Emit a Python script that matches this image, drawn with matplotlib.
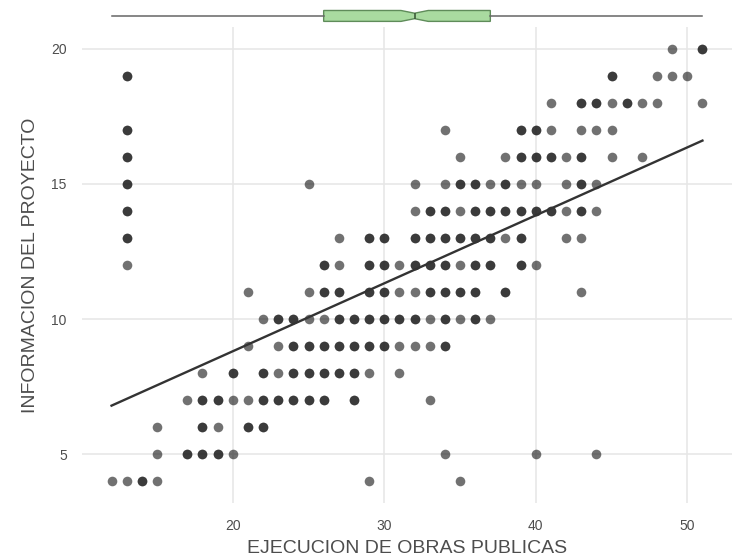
#! /usr/bin/env python3
import matplotlib
matplotlib.use("Agg")
import matplotlib.pyplot as plt
import numpy as np

plt.rcParams["font.family"] = ["Liberation Sans", "DejaVu Sans"]

# observations read off the picture, grouped by y; n = 2 where a dot is darker
# (several overlapping observations), 1 otherwise
obs_x = [
    49, 51,
    13, 45, 48, 49, 50,
    41, 43, 44, 45, 46, 47, 48, 51,
    13, 34, 39, 40, 41, 43, 44, 45,
    13, 35, 38, 39, 40, 41, 42, 43, 45, 47,
    13, 25, 32, 34, 35, 36, 37, 38, 39, 40, 42, 43, 44,
    13, 32, 33, 34, 35, 36, 37, 38, 39, 40, 41, 42, 43, 44,
    13, 27, 29, 30, 32, 33, 34, 35, 36, 37, 38, 39, 42, 43,
    13, 26, 27, 29, 30, 31, 32, 33, 34, 35, 36, 37, 39, 40,
    21, 25, 26, 27, 29, 30, 31, 32, 33, 34, 35, 36, 38, 43,
    22, 23, 24, 25, 26, 27, 28, 29, 30, 31, 32, 33, 34, 35, 36, 37,
    21, 23, 24, 25, 26, 27, 28, 29, 30, 31, 32, 33, 34,
    18, 20, 22, 23, 24, 25, 26, 27, 28, 29, 31,
    17, 18, 19, 20, 21, 22, 23, 24, 25, 26, 28, 33,
    15, 18, 19, 21, 22,
    15, 17, 18, 19, 20, 34, 40, 44,
    12, 13, 14, 15, 29, 35,
]
obs_y = (
    [20] * 2 + [19] * 5 + [18] * 8 + [17] * 8 + [16] * 10 + [15] * 13
    + [14] * 14 + [13] * 14 + [12] * 14 + [11] * 14 + [10] * 16 + [9] * 13
    + [8] * 11 + [7] * 12 + [6] * 5 + [5] * 8 + [4] * 6
)
obs_n = [
    1, 2,
    2, 2, 1, 1, 1,
    1, 2, 2, 1, 2, 1, 1, 1,
    2, 1, 2, 2, 1, 1, 1, 1,
    2, 1, 1, 2, 2, 2, 1, 2, 1, 1,
    2, 1, 1, 1, 2, 2, 1, 2, 1, 1, 1, 2, 1,
    2, 1, 2, 2, 1, 2, 2, 2, 2, 2, 2, 1, 2, 1,
    2, 1, 2, 2, 2, 2, 2, 2, 2, 2, 1, 2, 1, 1,
    1, 2, 1, 2, 2, 1, 2, 2, 2, 1, 2, 2, 2, 1,
    1, 1, 2, 2, 2, 2, 1, 1, 2, 2, 2, 2, 2, 1,
    1, 2, 2, 1, 1, 2, 2, 2, 2, 2, 2, 1, 2, 1, 2, 1,
    1, 1, 2, 2, 2, 2, 2, 2, 2, 1, 1, 1, 2,
    1, 2, 2, 1, 2, 2, 2, 2, 2, 1, 1,
    1, 2, 2, 1, 1, 2, 2, 2, 2, 2, 2, 1,
    1, 2, 1, 2, 2,
    1, 2, 2, 2, 1, 1, 1, 1,
    1, 1, 2, 1, 1, 1,
]

# fitted line
fit_x = [12, 51]
fit_y = [6.8, 16.6]

# marginal boxplot of x
box_stats = dict(whislo=12, q1=26, med=32, q3=37, whishi=51,
                 cilo=31.1, cihi=32.9, fliers=[])

x_ticks = [20, 30, 40, 50]
y_ticks = [5, 10, 15, 20]

W, H = 739, 558
fig = plt.figure(figsize=(W / 100, H / 100), dpi=100)

L, R = 82, 732
T, B = 27, 503
ax = fig.add_axes([L / W, 1 - B / H, (R - L) / W, (B - T) / H])
ax_top = fig.add_axes([L / W, 1 - 26 / H, (R - L) / W, 26 / H], sharex=ax)

xs = np.repeat(obs_x, obs_n)
ys = np.repeat(obs_y, obs_n)
ax.scatter(xs, ys, s=48, color="#1a1a1a", alpha=0.62, linewidths=0, zorder=3)
ax.plot(fit_x, fit_y, color="#333333", lw=1.7, zorder=4)

ax.set_xlim(10.05, 52.95)
ax.set_ylim(3.2, 20.8)
ax.set_xticks(x_ticks)
ax.set_yticks(y_ticks)
ax.grid(True, color="#e6e6e6", lw=1.1, zorder=0)
ax.set_axisbelow(True)
for s in ax.spines.values():
    s.set_visible(False)
ax.tick_params(length=0, labelsize=10, labelcolor="#4d4d4d")
ax.tick_params(axis="y", pad=11)
ax.tick_params(axis="x", pad=11.5)
ax.set_xlabel("EJECUCION DE OBRAS PUBLICAS", fontsize=14, color="#4d4d4d",
              labelpad=5)
ax.set_ylabel("INFORMACION DEL PROYECTO", fontsize=14, color="#4d4d4d",
              labelpad=9)

ax_top.bxp([box_stats], orientation="horizontal", shownotches=True,
           patch_artist=True, widths=0.65, showcaps=False,
           boxprops=dict(facecolor="#a9dba0", edgecolor="#5f8c5a", lw=1),
           medianprops=dict(color="#3d5c3a", lw=1.2),
           whiskerprops=dict(color="#666666", lw=1.1))
ax_top.set_ylim(0.40, 1.95)
ax_top.axis("off")

fig.savefig("out.png", dpi=100)
